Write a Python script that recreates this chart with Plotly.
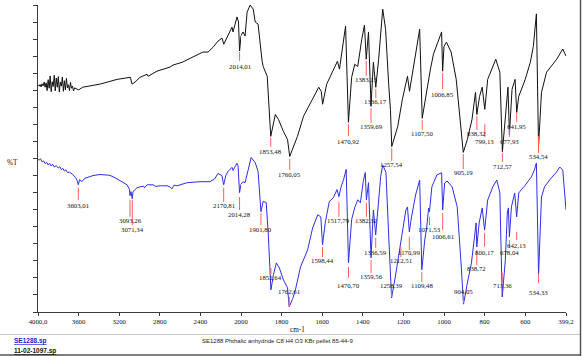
import plotly.graph_objects as go

# ---------------- data (wavenumber cm-1, %T) ----------------
black_wn = [4000, 3990, 3980, 3970, 3960, 3950, 3940, 3930, 3920, 3910, 3900, 3890, 3880, 3870, 3860,
            3850, 3840, 3830, 3820, 3810, 3800, 3790, 3780, 3770, 3760, 3750, 3740, 3730, 3720, 3710,
            3700, 3690, 3680, 3670, 3660, 3650, 3640, 3600, 3560, 3480, 3390, 3220, 3090, 3074, 3044,
            2995, 2926, 2916, 2828, 2700, 2670, 2580, 2470, 2375, 2325, 2276, 2227, 2187, 2170, 2108,
            2089, 2079, 2039, 2025, 2014.01, 2000, 1990, 1980, 1970, 1955, 1940, 1930, 1916, 1896, 1891,
            1871, 1853.48, 1831, 1816, 1791, 1771, 1760.05, 1722, 1692, 1642, 1617, 1605, 1598, 1578,
            1543, 1525, 1515, 1500, 1485, 1470.92, 1455, 1440, 1425, 1405, 1392, 1383.15, 1372, 1359.69,
            1348, 1336.17, 1322, 1302, 1288, 1272, 1264, 1257.54, 1228, 1205, 1180, 1170, 1145, 1120,
            1107.50, 1082, 1067, 1052, 1027, 1012, 1006.85, 1000, 988, 965, 940, 905.19, 885, 862, 845,
            838.32, 825, 812, 799.13, 785, 745, 725, 712.57, 695, 685, 677.93, 665, 650, 641.95, 632,
            600, 575, 560, 545, 534.54, 520, 495, 445, 415, 399.2]
black_t = [66.5, 66.2, 66.7, 66.0, 66.9, 66.3, 67.4, 65.9, 67.2, 64.9, 68.1, 65.6, 69.2, 64.6, 67.5,
           66.1, 69.4, 64.8, 68.6, 65.9, 69.0, 64.5, 67.4, 66.2, 68.9, 64.7, 67.8, 65.1, 68.5, 65.7,
           66.6, 64.9, 67.3, 65.6, 66.2, 64.8, 65.7, 65.1, 65.9, 66.3, 66.8, 68.2, 68.8, 66.8, 67.4,
           68.8, 69.7, 69.1, 70.6, 71.8, 72.4, 73.2, 74.7, 76.2, 76.2, 77.6, 79.4, 80.3, 78.5, 82.4,
           83.5, 82.1, 86.5, 85.0, 76.5, 81.0, 82.1, 80.9, 87.9, 90.0, 88.8, 85.0, 84.4, 73.5, 72.0,
           69.1, 51.5, 57.9, 56.5, 52.9, 50.6, 45.6, 51.5, 57.4, 63.2, 65.9, 64.7, 60.9, 66.8,
           71.2, 73.5, 71.2, 77.1, 83.8, 55.6, 68.8, 72.6, 72.0, 80.0, 84.1, 74.1, 82.1, 60.3,
           73.2, 65.9, 74.1, 88.8, 82.9, 66.2, 59.4, 48.5, 54.4, 62.4, 69.1, 64.7, 74.1, 82.9,
           56.8, 66.2, 71.2, 75.6, 79.4, 82.1, 70.6, 77.9, 79.1, 76.2, 68.2, 46.8, 50.6, 56.5, 64.4,
           57.9, 63.2, 65.9, 59.4, 68.2, 74.1, 70.3, 47.0, 59.4, 65.9, 52.0, 65.3, 68.2, 58.5, 63.2,
           68.2, 73.2, 77.9, 87.4, 48.5, 64.4, 70.3, 74.1, 77.1, 75.0]

blue_wn = [4000, 3990, 3975, 3960, 3945, 3930, 3915, 3900, 3885, 3870, 3855, 3840, 3820, 3800, 3785,
           3770, 3755, 3740, 3725, 3710, 3690, 3660, 3630, 3615, 3603.01, 3590, 3567, 3540, 3517, 3458,
           3389, 3300, 3261, 3192, 3123, 3100, 3093.26, 3084, 3071.34, 3064, 3025, 2995, 2960, 2950,
           2926, 2867, 2840, 2798, 2729, 2700, 2680, 2660, 2631, 2532, 2404, 2306, 2260, 2227, 2200,
           2188, 2170.81, 2150, 2129, 2089, 2079, 2040, 2030, 2014.28, 2000, 1990, 1980, 1970, 1950,
           1930, 1916, 1901.80, 1891, 1876, 1866, 1852.64, 1840, 1826, 1811, 1791, 1771, 1762.61,
           1745, 1732, 1707, 1672, 1647, 1622, 1607, 1598.44, 1585, 1565, 1545, 1527, 1517.79, 1508,
           1495, 1482, 1470.70, 1455, 1440, 1425, 1412, 1398, 1388, 1382.32, 1372, 1359.56, 1348,
           1336.59, 1322, 1312, 1302, 1286, 1272, 1258.39, 1240, 1225, 1212.51, 1200, 1188, 1180,
           1170.99, 1160, 1140, 1120, 1109.48, 1095, 1085, 1076, 1071.53, 1060, 1035, 1012, 1006.61,
           997, 985, 960, 935, 915, 904.05, 885, 865, 850, 842, 838.72, 827, 812, 800.17, 785, 760,
           740, 725, 717, 713.36, 698, 688, 683, 678.04, 668, 652, 642.13, 632, 600, 570, 555, 545,
           534.33, 520, 505, 480, 445, 430, 415, 399.2]
blue_t = [44.7, 44.5, 44.9, 44.0, 44.3, 43.5, 43.9, 43.1, 43.6, 42.8, 43.3, 42.5, 42.9, 42.2, 42.6,
          41.7, 42.1, 41.3, 41.7, 40.9, 41.0, 40.4, 39.4, 38.6, 37.3, 38.8, 38.2, 39.2, 39.4, 40.0,
          40.3, 40.1, 39.7, 38.5, 37.3, 36.0, 34.1, 35.3, 33.2, 35.3, 36.4, 36.7, 36.9, 36.4,
          37.3, 37.3, 36.8, 37.0, 37.0, 36.7, 36.1, 37.2, 37.0, 37.9, 38.2, 38.2, 39.0, 40.6, 40.3,
          40.0, 37.3, 40.0, 41.2, 42.4, 41.5, 43.6, 43.0, 35.0, 37.5, 38.2, 37.9, 40.3, 45.3,
          43.8, 41.2, 29.4, 32.4, 32.1, 23.2, 6.5, 11.0, 14.4, 12.9, 9.4, 7.1, 1.5,
          4.0, 6.5, 13.2, 18.2, 24.7, 28.5, 27.9, 19.7, 26.2, 32.4, 33.5, 35.9, 33.8, 36.5,
          38.8, 41.8, 14.4, 27.1, 30.6, 32.9, 32.0, 38.2, 40.9, 32.9, 37.9, 15.9, 29.9,
          22.6, 32.9, 39.7, 43.1, 40.9, 21.7, 4.1, 10.3, 16.1, 20.3, 24.9, 29.9, 30.8,
          23.5, 27.9, 34.3, 38.7, 12.4, 21.1, 24.9, 30.5, 29.4, 36.7, 40.2, 40.8, 29.9,
          37.8, 38.4, 36.7, 30.8, 13.2, 2.3, 8.5, 14.4, 22.0, 26.1, 19.1, 26.1, 30.5, 24.0, 32.8, 36.7,
          38.7, 34.9, 13.2, 4.4, 15.2, 29.3, 30.5, 22.0, 30.8, 34.9, 27.9, 34.9, 37.2, 39.6, 41.6, 43.7,
          10.9, 33.7, 36.7, 38.7, 41.1, 42.5, 41.6, 29.9]

# peak markers: wavenumber, tick start %T, tick end %T, label centre %T
black_peaks = [2014.01, 1853.48, 1760.05, 1470.92, 1383.15, 1359.69, 1336.17, 1257.54, 1107.50,
               1006.85, 905.19, 838.32, 799.13, 712.57, 677.93, 641.95, 534.54]
black_tick_a = [76.2, 51.0, 44.9, 55.1, 73.6, 59.8, 65.4, 48.1, 56.3, 70.1, 46.3, 57.5, 55.1, 46.6, 54.0, 58.4, 51.6]
black_tick_b = [73.6, 48.4, 41.6, 51.6, 69.2, 55.4, 62.8, 44.3, 53.4, 65.4, 41.9, 53.4, 51.3, 44.0, 51.3, 55.7, 46.6]
black_label_t = [72.1, 47.2, 40.2, 50.1, 68.3, 54.3, 61.6, 43.1, 52.2, 63.9, 40.8, 52.2, 49.9, 42.8, 49.9, 54.5, 45.5]

blue_peaks = [3603.01, 3093.26, 3071.34, 2170.81, 2014.28, 1901.80, 1852.64, 1762.61, 1598.44, 1517.79,
              1470.70, 1382.32, 1359.56, 1336.59, 1258.39, 1212.51, 1170.99, 1109.48, 1071.53, 1006.61,
              904.05, 838.72, 800.17, 713.36, 678.04, 642.13, 534.33]
blue_tick_a = [36.4, 32.8, 32.8, 36.4, 33.7, 29.0, 12.9, 1.5, 19.1, 32.3, 13.2, 32.0, 15.2, 21.7, 6.5, 19.1,
               22.0, 11.7, 27.9, 29.0, 4.4, 18.2, 23.2, 11.4, 21.1, 23.5, 11.4]
blue_tick_b = [32.8, 27.9, 25.5, 32.3, 29.9, 25.5, 11.1, 4.4, 16.1, 27.9, 10.0, 27.9, 11.4, 18.8, 4.4, 16.1,
               18.2, 8.8, 25.5, 24.0, 2.6, 13.8, 19.1, 8.8, 18.8, 21.1, 8.5]
blue_label_t = [31.1, 26.7, 24.3, 31.1, 28.7, 24.3, 10.0, 5.9, 15.0, 26.7, 7.9, 26.7, 10.3, 17.3, 7.9, 15.0,
                17.3, 7.9, 24.3, 22.0, 5.9, 12.9, 17.3, 7.9, 17.3, 19.6, 5.6]

left_ticks = [4000, 3600, 3200, 2800, 2400]
left_tick_text = ["4000,0", "3600", "3200", "2800", "2400"]
right_ticks = [2000, 1800, 1600, 1400, 1200, 1000, 800, 600, 399.2]
right_tick_text = ["2000", "1800", "1600", "1400", "1200", "1000", "800", "600", "399,2"]

x_label = "cm-1"
y_label = "%T"
file1 = "SE1288.sp"
file2 = "11-02-1097.sp"
caption = "SE1288 Phthalic anhydride C8 H4 O3 KBr pellet 85-44-9"

# ---------------- layout constants ----------------
W, H = 583, 356
L, R, TOP, BOT = 38, 566, 5, 312
SPLIT = 2000.0
D = (4000 - SPLIT) / ((4000 - SPLIT) + 2 * (SPLIT - 399.2))
AX = "#3a3a3a"
RED = "#ff5c5c"
SERIF = "Liberation Serif"
SANS = "Liberation Sans"


def px_x(px):
    return (px - L) / (R - L)


def px_y(py):
    return (BOT - py) / (BOT - TOP)


def split(wn, t):
    lx = [w for w in wn if w >= SPLIT]
    ly = [v for w, v in zip(wn, t) if w >= SPLIT]
    rx = [w for w in wn if w <= SPLIT]
    ry = [v for w, v in zip(wn, t) if w <= SPLIT]
    return lx, ly, rx, ry


fig = go.Figure()
for wn, t, col in [(black_wn, black_t, "#111111"), (blue_wn, blue_t, "#2f2fe6")]:
    lx, ly, rx, ry = split(wn, t)
    fig.add_trace(go.Scatter(x=lx, y=ly, mode="lines", xaxis="x", yaxis="y",
                             line=dict(color=col, width=1), hoverinfo="skip", showlegend=False))
    fig.add_trace(go.Scatter(x=rx, y=ry, mode="lines", xaxis="x2", yaxis="y",
                             line=dict(color=col, width=1), hoverinfo="skip", showlegend=False))

for peaks, ta, tb, lt in [(black_peaks, black_tick_a, black_tick_b, black_label_t),
                          (blue_peaks, blue_tick_a, blue_tick_b, blue_label_t)]:
    for w, a, b, l in zip(peaks, ta, tb, lt):
        xr = "x" if w >= SPLIT else "x2"
        fig.add_shape(type="line", xref=xr, yref="y", x0=w, x1=w, y0=a, y1=b,
                      line=dict(color=RED, width=1), layer="above")
        fig.add_annotation(xref=xr, yref="y", x=w, y=l, text=f"{w:.2f}".replace(".", ","),
                           showarrow=False, xanchor="center", yanchor="middle", borderpad=0,
                           font=dict(family=SERIF, size=6.8, color="#111111"))

axis_common = dict(showline=True, linecolor=AX, linewidth=1, ticks="outside", ticklen=3,
                   tickcolor=AX, tickwidth=1, showgrid=False, zeroline=False, anchor="y",
                   tickfont=dict(family=SERIF, size=6.8, color="#111111"), fixedrange=True)

fig.update_layout(
    width=W, height=H,
    margin=dict(l=L, r=W - R, t=TOP, b=H - BOT, autoexpand=False),
    paper_bgcolor="white", plot_bgcolor="white",
    showlegend=False,
    xaxis=dict(domain=[0, D], range=[4000, SPLIT], tickmode="array",
               tickvals=left_ticks, ticktext=left_tick_text, **axis_common),
    xaxis2=dict(domain=[D, 1], range=[SPLIT, 399.2], tickmode="array",
                tickvals=right_ticks, ticktext=right_tick_text, **axis_common),
    yaxis=dict(range=[0, 90], tickmode="array", tickvals=list(range(0, 91, 5)),
               showticklabels=False, showline=True, linecolor=AX, linewidth=1,
               ticks="outside", ticklen=4, tickcolor=AX, showgrid=False, zeroline=False,
               fixedrange=True),
)

# axis titles and footer
fig.add_annotation(xref="paper", yref="paper", x=px_x(297), y=px_y(330), text=x_label,
                   showarrow=False, xanchor="center", yanchor="middle",
                   font=dict(family=SERIF, size=7.2, color="#111111"))
fig.add_annotation(xref="paper", yref="paper", x=px_x(12), y=px_y(163), text=y_label,
                   showarrow=False, xanchor="center", yanchor="middle",
                   font=dict(family=SERIF, size=7.2, color="#111111"))
fig.add_annotation(xref="paper", yref="paper", x=px_x(12), y=px_y(341), text=f"<b>{file1}</b>",
                   showarrow=False, xanchor="left", yanchor="middle",
                   font=dict(family=SANS, size=6.5, color="#1a1acc", lineposition="under"))
fig.add_annotation(xref="paper", yref="paper", x=px_x(12), y=px_y(351), text=f"<b>{file2}</b>",
                   showarrow=False, xanchor="left", yanchor="middle",
                   font=dict(family=SANS, size=6.5, color="#111111", lineposition="under"))
fig.add_annotation(xref="paper", yref="paper", x=px_x(277), y=px_y(341), text=caption,
                   showarrow=False, xanchor="center", yanchor="middle",
                   font=dict(family=SANS, size=6, color="#222222"))

# window frame lines
fig.add_shape(type="line", xref="paper", yref="paper", x0=px_x(0), x1=px_x(580.5),
              y0=px_y(334.5), y1=px_y(334.5), line=dict(color="#c8c8c8", width=1))
fig.add_shape(type="line", xref="paper", yref="paper", x0=px_x(0), x1=px_x(581),
              y0=px_y(355), y1=px_y(355), line=dict(color="#555555", width=1.5))
fig.add_shape(type="line", xref="paper", yref="paper", x0=px_x(580.5), x1=px_x(580.5),
              y0=px_y(0), y1=px_y(356), line=dict(color="#555555", width=1.5))

fig.write_html("out.html", config={"displayModeBar": False, "staticPlot": True})

# remove the browser's default page margin so the figure sits at the window origin
with open("out.html", "r", encoding="utf-8") as fh:
    html = fh.read()
html = html.replace("<head>", "<head><style>html,body{margin:0;padding:0;overflow:hidden;}</style>", 1)
with open("out.html", "w", encoding="utf-8") as fh:
    fh.write(html)
